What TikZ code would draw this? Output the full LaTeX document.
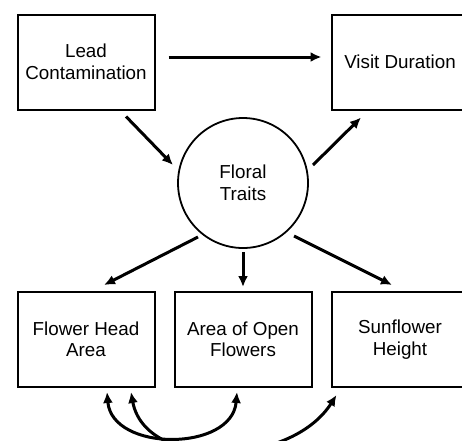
\documentclass[tikz,border=0pt]{standalone}
\usepackage{fontspec}
\setmainfont{Liberation Sans}
\usetikzlibrary{arrows.meta}
\begin{document}
\begin{tikzpicture}[x=1pt,y=-1pt,
  box/.style={draw,line width=2pt,minimum width=137pt,minimum height=95pt,align=center,inner sep=0pt,font=\fontsize{18.8}{21.5}\selectfont},
  circ/.style={draw,circle,line width=1.8pt,minimum size=130pt,align=center,inner sep=0pt,font=\fontsize{18.8}{21.5}\selectfont},
  arr/.style={line width=3pt,-{Latex[length=11pt,width=10pt]}},
  darr/.style={line width=3pt,{Latex[length=11pt,width=10pt]}-{Latex[length=11pt,width=10pt]}}]
\useasboundingbox (0,0) rectangle (462,440);
\node[box] (lead) at (86,62) {Lead\\Contamination};
\node[box] (visit) at (400,62) {Visit Duration};
\node[circ] (flo) at (243,183) {Floral\\Traits};
\node[box] (fha) at (86,339.5) {Flower Head\\Area};
\node[box] (aof) at (243,339.5) {Area of Open\\Flowers};
\node[box] (sh) at (400,339.5) {Sunflower\\Height};
\draw[arr] ([shift={(13pt,5pt)}]lead.east) -- ([shift={(-9pt,5pt)}]visit.west);
\draw[arr] ([shift={(40pt,-6pt)}]lead.south) -- ([shift={(-70pt,18pt)}]flo.center);
\draw[arr] ([shift={(70pt,18pt)}]flo.center) -- ([shift={(-39pt,-7pt)}]visit.south);
\draw[arr] ([shift={(-45pt,-54pt)}]flo.center) -- ([shift={(18pt,6pt)}]fha.north);
\draw[arr] ([shift={(0pt,-69pt)}]flo.center) -- ([shift={(0pt,4pt)}]aof.north);
\draw[arr] ([shift={(51pt,-53pt)}]flo.center) -- ([shift={(-8pt,6pt)}]sh.north);
\draw[darr] ([shift={(21pt,-4pt)}]fha.south) .. controls (112,452) and (232,452) .. ([shift={(-6pt,-4pt)}]aof.south);
\draw[darr] ([shift={(45pt,-4pt)}]fha.south) .. controls (145,470) and (290,468) .. ([shift={(6pt,-7pt)}]sh.south west);
\end{tikzpicture}
\end{document}
